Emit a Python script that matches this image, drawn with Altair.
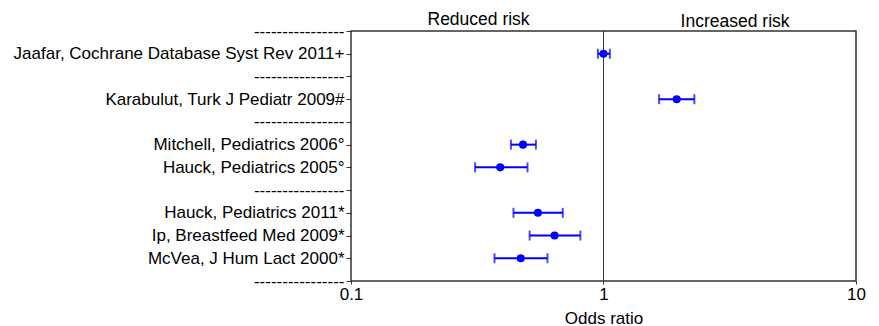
import json
import altair as alt
import pandas as pd

# ---- data ----
studies = [
    "Jaafar, Cochrane Database Syst Rev 2011+",
    "Karabulut, Turk J Pediatr 2009#",
    "Mitchell, Pediatrics 2006°",
    "Hauck, Pediatrics 2005°",
    "Hauck, Pediatrics 2011*",
    "Ip, Breastfeed Med 2009*",
    "McVea, J Hum Lact 2000*",
]
row_pos = [1, 3, 5, 6, 8, 9, 10]
odds = [1.00, 1.95, 0.48, 0.39, 0.55, 0.64, 0.47]
ci_low = [0.95, 1.66, 0.43, 0.31, 0.44, 0.51, 0.37]
ci_high = [1.06, 2.29, 0.54, 0.50, 0.69, 0.81, 0.60]

separator = "----------------"
row_labels = [separator, studies[0], separator, studies[1], separator,
              studies[2], studies[3], separator, studies[4], studies[5],
              studies[6], separator]

x_ticks = [0.1, 1, 10]
ref_value = [1]

note_text = ["Reduced risk", "Increased risk"]
note_x = [0.32, 3.32]

FONT = "Liberation Sans"
BLUE = "#0000ff"

df = pd.DataFrame({"study": studies, "pos": row_pos, "or": odds,
                   "lo": ci_low, "hi": ci_high})
ref_df = pd.DataFrame({"x": ref_value})
notes_df = pd.DataFrame({"text": note_text, "x": note_x})

xscale = alt.Scale(type="log", domain=[0.1, 10], nice=False)
yscale = alt.Scale(domain=[0, 11], reverse=True, nice=False, zero=False)

label_expr = json.dumps(row_labels, ensure_ascii=False) + "[datum.value]"

x_axis = alt.Axis(values=x_ticks, format="~g", title="Odds ratio",
                  labelFont=FONT, labelFontSize=17, labelColor="black",
                  titleFont=FONT, titleFontSize=17, titleFontWeight="normal",
                  titleColor="black", titlePadding=8, labelPadding=2,
                  domain=False, tickSize=3, tickColor="#333", grid=False,
                  labelFlush=False, labelOverlap=False)
y_axis = alt.Axis(values=list(range(12)), labelExpr=label_expr, title=None,
                  labelFont=FONT, labelFontSize=17, labelColor="black",
                  labelPadding=2, tickSize=5, tickColor="#333", domain=False,
                  grid=False, labelLimit=0, labelOverlap=False,
                  labelFlush=False, labelBound=False, labelSeparation=0)

X = lambda f: alt.X(f, scale=xscale, axis=x_axis)
Y = lambda f: alt.Y(f, scale=yscale, axis=y_axis)

base = alt.Chart(df)

ref = alt.Chart(ref_df).mark_rule(color="#333", strokeWidth=1).encode(
    x=X("x:Q"),
)
bars = base.mark_rule(color=BLUE, strokeWidth=2).encode(
    x=X("lo:Q"), x2="hi:Q", y=Y("pos:Q"),
)
cap_lo = base.mark_tick(color=BLUE, orient="vertical", size=10, thickness=2).encode(
    x=X("lo:Q"), y=Y("pos:Q"),
)
cap_hi = base.mark_tick(color=BLUE, orient="vertical", size=10, thickness=2).encode(
    x=X("hi:Q"), y=Y("pos:Q"),
)
points = base.mark_circle(color=BLUE, size=65, opacity=1).encode(
    x=X("or:Q"), y=Y("pos:Q"),
)

note_reduced = alt.Chart(notes_df.iloc[[0]]).mark_text(
    font=FONT, fontSize=17.5, color="black", baseline="alphabetic", align="center", dy=-6
).encode(x=X("x:Q"), y=alt.value(0), text="text:N")
note_increased = alt.Chart(notes_df.iloc[[1]]).mark_text(
    font=FONT, fontSize=17.5, color="black", baseline="alphabetic", align="center", dy=-4
).encode(x=X("x:Q"), y=alt.value(0), text="text:N")

chart = alt.layer(ref, bars, cap_lo, cap_hi, points, note_reduced, note_increased).properties(
    width=505, height=250, background="white",
    padding={"left": 5, "right": 5, "top": 3, "bottom": 0},
).configure_view(stroke="#333", strokeWidth=1.5).configure_axis(labelOverlap=False)

chart.save("out.html", embed_options={"renderer": "svg", "actions": False})
